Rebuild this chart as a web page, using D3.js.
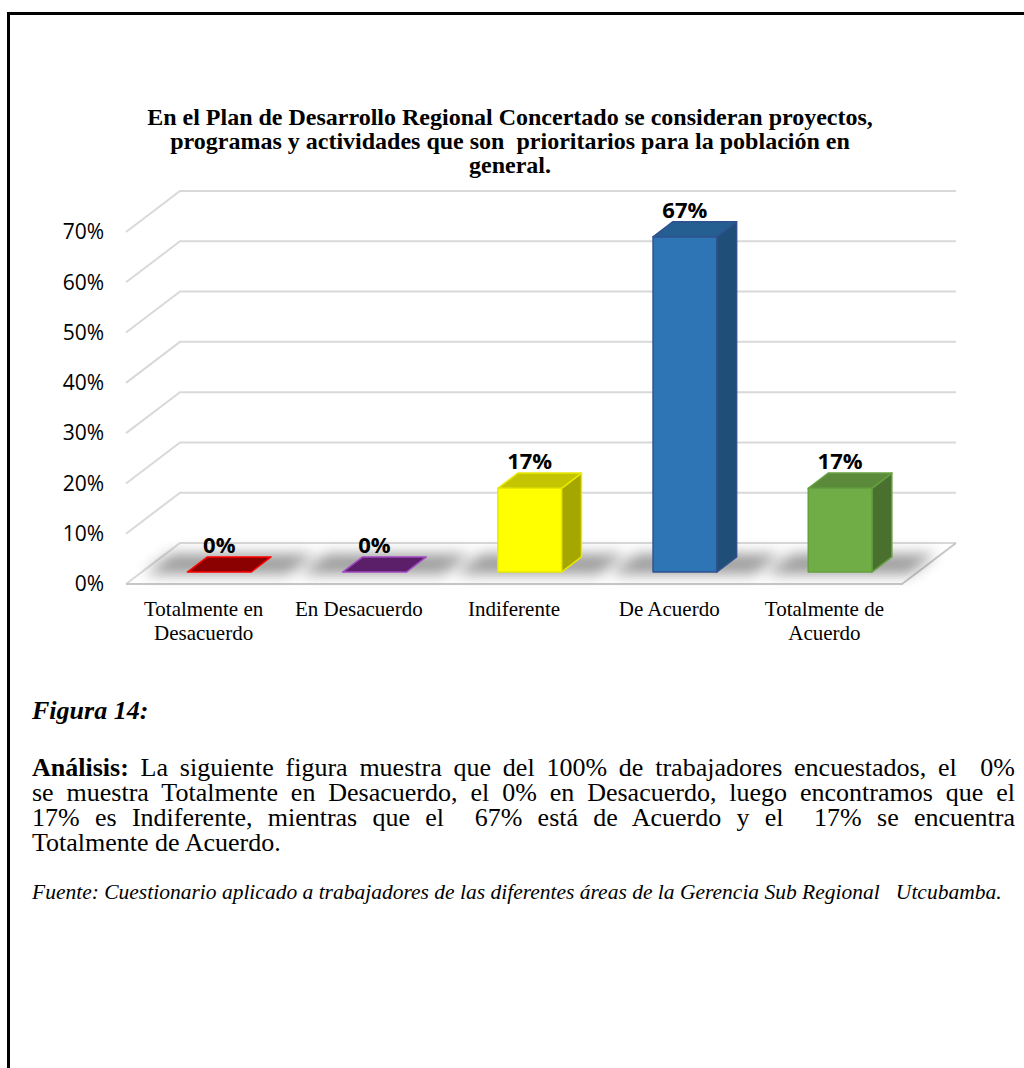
<!DOCTYPE html>
<html>
<head>
<meta charset="utf-8" />
<script src="https://cdn.jsdelivr.net/npm/d3@7"></script>
<style>
  body { margin: 0; background: #fff; width: 1024px; height: 1068px; overflow: hidden; position: relative; }
  .frame { position: absolute; left: 7px; top: 12px; width: 1100px; height: 1100px;
           border-top: 3px solid #000; border-left: 3px solid #000; }
  svg { position: absolute; left: 0; top: 0; }
  .txt { position: absolute; left: 32px; width: 983px; font-family: "Liberation Serif", "Times New Roman", serif;
         color: #000; white-space: nowrap; }
  .just { text-align: justify; text-align-last: justify; white-space: normal; }
</style>
</head>
<body>
<div class="frame"></div>
<svg width="1024" height="1068"></svg>
<div class="txt" style="top:698px;font-size:26px;line-height:26px;font-weight:bold;font-style:italic;">Figura 14:</div>
<div id="para"></div>
<div class="txt" style="top:880px;font-size:21.5px;line-height:24px;font-style:italic;white-space:pre;">Fuente: Cuestionario aplicado a trabajadores de las diferentes áreas de la Gerencia Sub Regional   Utcubamba.</div>
<script>
// data
var categories = ['Totalmente en Desacuerdo', 'En Desacuerdo', 'Indiferente', 'De Acuerdo', 'Totalmente de Acuerdo'];
var labelLines = [['Totalmente en', 'Desacuerdo'], ['En Desacuerdo'], ['Indiferente'], ['De Acuerdo'], ['Totalmente de', 'Acuerdo']];
var values = [0, 0, 0.1667, 0.6667, 0.1667];
var valueLabels = ['0%', '0%', '17%', '67%', '17%'];
var yTicks = [0, 0.1, 0.2, 0.3, 0.4, 0.5, 0.6, 0.7];
var titleLines = [
  'En el Plan de Desarrollo Regional Concertado se consideran proyectos,',
  'programas y actividades que son  prioritarios para la población en',
  'general.'
];
var paraLines = [
  '<b>Análisis:</b> La siguiente figura muestra que del 100% de trabajadores encuestados, el&nbsp; 0%',
  'se muestra Totalmente en Desacuerdo, el 0% en Desacuerdo, luego encontramos que el',
  '17% es Indiferente, mientras que el&nbsp; 67% está de Acuerdo y el&nbsp; 17% se encuentra',
  'Totalmente de Acuerdo.'
];
// bar colours: front, side, top, stroke
var colors = [
  { front: '#c00000', side: '#900000', top: '#8b0000', stroke: '#ff0000' },
  { front: '#7030a0', side: '#4a1f6a', top: '#5b1f6a', stroke: '#a349c2' },
  { front: '#ffff00', side: '#a6a600', top: '#c4c400', stroke: '#e8e800' },
  { front: '#2e75b6', side: '#1f4e79', top: '#255e91', stroke: '#2f528f' },
  { front: '#70ad47', side: '#4a7030', top: '#5b8a3a', stroke: '#65a040' }
];

var X0 = 126, Y0 = 584, DX = 54, DY = 41, W = 776;
var x = d3.scaleBand().domain(categories).range([0, W]);
var y = d3.scaleLinear().domain([0, 0.7]).range([0, 352]);
function proj(px, v, z) { return [X0 + px + z * DX, Y0 - y(v) - z * DY]; }
var line = d3.line();

var svg = d3.select('svg');
var defs = svg.append('defs');
defs.append('filter').attr('id', 'blur').attr('x', '-50%').attr('y', '-100%').attr('width', '200%').attr('height', '300%')
  .append('feGaussianBlur').attr('stdDeviation', 7);

// title
svg.append('text')
  .attr('text-anchor', 'middle')
  .style('font-family', '"Liberation Serif", "Times New Roman", serif')
  .style('font-weight', 'bold')
  .style('font-size', '24px')
  .style('white-space', 'pre')
  .selectAll('tspan').data(titleLines).enter().append('tspan')
  .attr('x', 510)
  .attr('y', function (d, i) { return 125 + i * 24; })
  .text(function (d) { return d; });

// gridlines (left diagonal + back wall)
var grid = svg.append('g').attr('fill', 'none').attr('stroke', '#d9d9d9').attr('stroke-width', 2);
yTicks.forEach(function (t) {
  grid.append('path').attr('d', line([proj(0, t, 0), proj(0, t, 1), proj(W, t, 1)]));
});
// floor
svg.append('path')
  .attr('fill', 'none').attr('stroke', '#c8c8c8').attr('stroke-width', 2)
  .attr('d', line([proj(0, 0, 0), proj(W, 0, 0), proj(W, 0, 1)]));

// y labels
svg.append('g').selectAll('text').data(yTicks).enter().append('text')
  .attr('x', 104)
  .attr('y', function (d) { return proj(0, d, 0)[1]; })
  .attr('dy', '0.35em')
  .attr('text-anchor', 'end')
  .style('font-family', '"Open Sans", sans-serif')
  .style('font-size', '21px')
  .attr('fill', '#000')
  .text(function (d) { return d3.format('.0%')(d); });

// bars
var z0 = 0.29, z1 = 0.66;
var bw = x.bandwidth() * 0.41;
var bars = svg.append('g');
categories.forEach(function (c, i) {
  var v = values[i], col = colors[i];
  var xa = x(c) + (x.bandwidth() - bw) / 2, xb = xa + bw;
  var g = bars.append('g');
  // shadow on floor
  g.append('path')
    .attr('d', line([proj(xa - 40, 0, z0 - 0.05), proj(xb + 40, 0, z0 - 0.05), proj(xb + 40, 0, z1 + 0.08), proj(xa - 40, 0, z1 + 0.08)]) + 'Z')
    .attr('fill', '#5a5a5a').attr('opacity', 0.6).attr('filter', 'url(#blur)');
  if (v > 0) {
    g.append('path')
      .attr('d', line([proj(xb, 0, z0), proj(xb, 0, z1), proj(xb, v, z1), proj(xb, v, z0)]) + 'Z')
      .attr('fill', col.side).attr('stroke', col.stroke).attr('stroke-width', 1.5).attr('stroke-linejoin', 'round');
    g.append('path')
      .attr('d', line([proj(xa, 0, z0), proj(xb, 0, z0), proj(xb, v, z0), proj(xa, v, z0)]) + 'Z')
      .attr('fill', col.front).attr('stroke', col.stroke).attr('stroke-width', 1.5).attr('stroke-linejoin', 'round');
  }
  g.append('path')
    .attr('d', line([proj(xa, v, z0), proj(xb, v, z0), proj(xb, v, z1), proj(xa, v, z1)]) + 'Z')
    .attr('fill', col.top).attr('stroke', col.stroke).attr('stroke-width', 1.5).attr('stroke-linejoin', 'round');
  // value label
  g.append('text')
    .attr('x', proj((xa + xb) / 2, v, z0)[0])
    .attr('y', proj(xa, v, z1)[1] - 4)
    .attr('text-anchor', 'middle')
    .style('font-family', '"Open Sans", sans-serif')
    .style('font-weight', 'bold')
    .style('font-size', '22px')
    .text(valueLabels[i]);
});

// category labels
svg.append('g').selectAll('text').data(categories).enter().append('text')
  .attr('text-anchor', 'middle')
  .style('font-family', '"Liberation Serif", "Times New Roman", serif')
  .style('font-size', '21px')
  .each(function (d, i) {
    d3.select(this).selectAll('tspan').data(labelLines[i]).enter().append('tspan')
      .attr('x', X0 + x(d) + x.bandwidth() / 2)
      .attr('y', function (t, j) { return 616 + j * 24; })
      .text(function (t) { return t; });
  });

// analysis paragraph, one block per line so the breaks stay as in the figure
d3.select('#para').selectAll('div').data(paraLines).enter().append('div')
  .attr('class', function (d, i) { return i < paraLines.length - 1 ? 'txt just' : 'txt'; })
  .style('top', function (d, i) { return (756 + i * 25) + 'px'; })
  .style('font-size', '26px')
  .style('line-height', '24px')
  .html(function (d) { return d; });
</script>
</body>
</html>
